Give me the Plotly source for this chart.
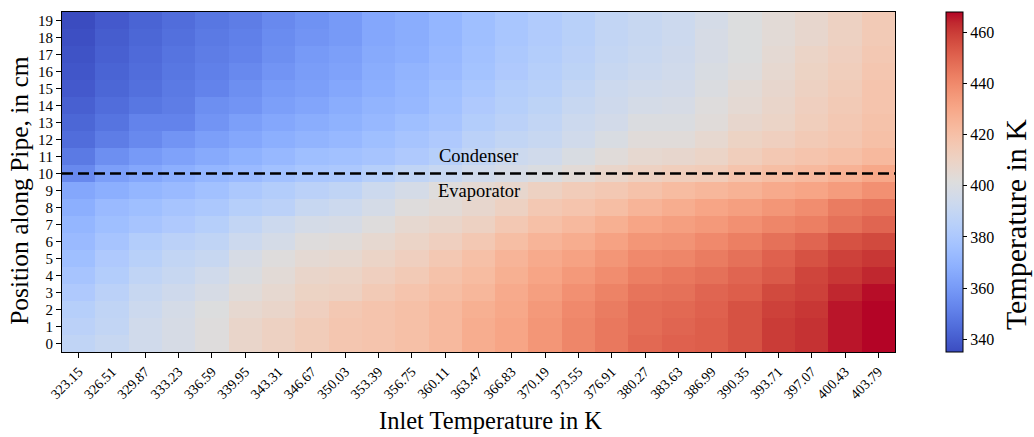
import numpy as np
import plotly.graph_objects as go

inlet_labels = ["323.15", "326.51", "329.87", "333.23", "336.59", "339.95", "343.31", "346.67",
                "350.03", "353.39", "356.75", "360.11", "363.47", "366.83", "370.19", "373.55",
                "376.91", "380.27", "383.63", "386.99", "390.35", "393.71", "397.07", "400.43", "403.79"]
positions = list(range(20))

# temperature (K) per inlet temperature column, listed from position 0 to 19
temps_by_inlet = [
    [388,386,384,381,378,375,373,371,368,365,354,349,345,343,341,339,338,337,336,335],
    [391,389,388,386,383,381,378,375,373,368,362,356,350,347,345,343,342,341,340,339],
    [395,395,393,391,388,385,383,378,375,371,365,360,354,352,348,346,345,344,343,342],
    [398,398,397,394,391,389,386,381,378,373,368,363,358,352,350,349,348,347,346,345],
    [402,402,401,398,395,391,388,384,380,376,371,366,362,358,356,352,351,350,349,348],
    [408,408,406,403,400,398,393,389,384,380,373,369,365,362,358,356,354,352,351,350],
    [411,411,408,406,404,402,397,393,386,383,376,372,368,365,362,360,358,356,355,354],
    [414,414,412,410,408,405,402,397,391,386,379,375,370,367,364,362,361,360,358,357],
    [417,417,416,411,409,406,403,398,393,388,380,376,372,369,367,365,363,362,360,360],
    [418,418,418,415,412,409,406,402,397,393,384,378,375,372,370,368,367,366,365,365],
    [420,420,420,418,415,412,409,406,402,397,388,381,378,375,372,371,370,368,367,367],
    [423,423,423,421,419,416,412,408,404,402,391,384,381,378,376,375,373,372,371,371],
    [428,428,427,424,422,420,416,411,407,405,395,389,386,383,381,379,377,376,375,375],
    [431,431,430,429,427,425,421,416,411,407,398,393,389,386,384,383,381,380,379,379],
    [436,436,435,433,431,429,425,420,416,411,400,395,391,389,387,385,384,383,382,382],
    [441,441,440,438,435,432,428,423,418,414,404,399,395,393,391,389,387,386,385,385],
    [445,445,444,442,439,436,432,427,421,416,408,403,399,396,394,393,391,390,389,389],
    [449,448,448,446,443,440,436,431,425,419,411,406,403,400,397,395,393,392,391,391],
    [451,450,449,447,445,441,437,433,428,422,413,407,403,400,398,396,395,394,393,393],
    [452,452,451,450,447,444,440,435,431,424,414,409,406,403,402,400,399,398,398,397],
    [455,455,455,452,450,447,443,438,433,426,418,413,410,407,405,404,402,401,401,401],
    [460,460,459,457,453,451,447,441,436,429,421,416,412,409,408,407,406,405,404,404],
    [462,462,461,459,458,455,450,443,439,431,423,418,415,413,412,411,410,409,407,407],
    [466,466,466,464,461,459,455,447,444,434,426,420,417,416,415,414,413,412,411,411],
    [468,468,468,467,464,461,457,450,446,438,430,423,420,419,418,418,417,416,415,415],
]
cbar_ticks = [340, 360, 380, 400, 420, 440, 460]
boundary_position = 10

coolwarm_rgb = [
    (59,76,192),(68,90,204),(77,104,215),(87,117,225),(98,130,234),(108,142,241),(119,154,247),
    (130,165,251),(141,176,254),(152,185,255),(163,194,255),(174,201,253),(184,208,249),
    (194,213,244),(204,217,238),(213,219,230),(221,221,221),(229,216,209),(236,211,197),
    (241,204,185),(245,196,173),(247,187,160),(247,177,148),(247,166,135),(244,154,123),
    (241,141,111),(236,127,99),(229,112,88),(222,96,77),(213,80,66),(203,62,56),(192,40,47),(180,4,38)]
n = len(coolwarm_rgb) - 1
colorscale = [[i / n, f"rgb{c}"] for i, c in enumerate(coolwarm_rgb)]

z = np.array(temps_by_inlet).T
xi = list(range(len(inlet_labels)))

serif = "Liberation Serif, Times New Roman, serif"

fig = go.Figure(go.Heatmap(
    z=z, x=xi, y=positions, colorscale=colorscale, zmin=335, zmax=468,
    colorbar=dict(
        x=1.0612, xanchor="left", xref="paper", y=0.5, yanchor="middle", len=1, lenmode="fraction",
        thickness=17, outlinecolor="black", outlinewidth=1, xpad=0, ypad=0,
        tickvals=cbar_ticks, ticks="outside", ticklen=4, tickcolor="black",
        tickfont=dict(family=serif, size=16, color="black"),
    ),
))

fig.add_shape(type="line", xref="x", yref="y", x0=-0.5, x1=len(inlet_labels) - 0.5,
              y0=boundary_position, y1=boundary_position,
              line=dict(color="black", width=2.5, dash="11px,5px"))

fig.add_annotation(x=12, y=11.05, text="Condenser", showarrow=False,
                   font=dict(family=serif, size=18.5, color="black"))
fig.add_annotation(x=12, y=8.95, text="Evaporator", showarrow=False,
                   font=dict(family=serif, size=18.5, color="black"))

# axis / colorbar titles
fig.add_annotation(xref="paper", yref="paper", x=0.514, y=-0.2, xanchor="center", yanchor="middle",
                   text="Inlet Temperature in K", showarrow=False,
                   font=dict(family=serif, size=24.5, color="black"))
fig.add_annotation(xref="paper", yref="paper", x=-0.0504, y=0.474, xanchor="center", yanchor="middle",
                   text="Position along Pipe, in cm", textangle=-90, showarrow=False,
                   font=dict(family=serif, size=25.5, color="black"))
fig.add_annotation(xref="paper", yref="paper", x=1.1440, y=0.376, xanchor="center", yanchor="middle",
                   text="Temperature in K", textangle=-90, showarrow=False,
                   font=dict(family=serif, size=30, color="black"))

fig.update_xaxes(
    tickvals=xi, ticktext=inlet_labels, tickangle=-45, range=[-0.5, len(inlet_labels) - 0.5],
    ticks="outside", ticklen=5, tickcolor="black", showline=True, linecolor="black", linewidth=1,
    mirror=True, tickfont=dict(family=serif, size=14, color="black"),
    showgrid=False, zeroline=False,
)
fig.update_yaxes(
    tickvals=positions, ticktext=[str(p) for p in positions], range=[-0.5, 19.5],
    ticks="outside", ticklen=5, tickcolor="black", showline=True, linecolor="black", linewidth=1,
    mirror=True, tickfont=dict(family=serif, size=15, color="black"),
    showgrid=False, zeroline=False,
)

fig.update_layout(
    width=1034, height=437, margin=dict(l=62, r=139, t=12, b=85),
    paper_bgcolor="white", plot_bgcolor="white",
)

fig.write_html("out.html")
